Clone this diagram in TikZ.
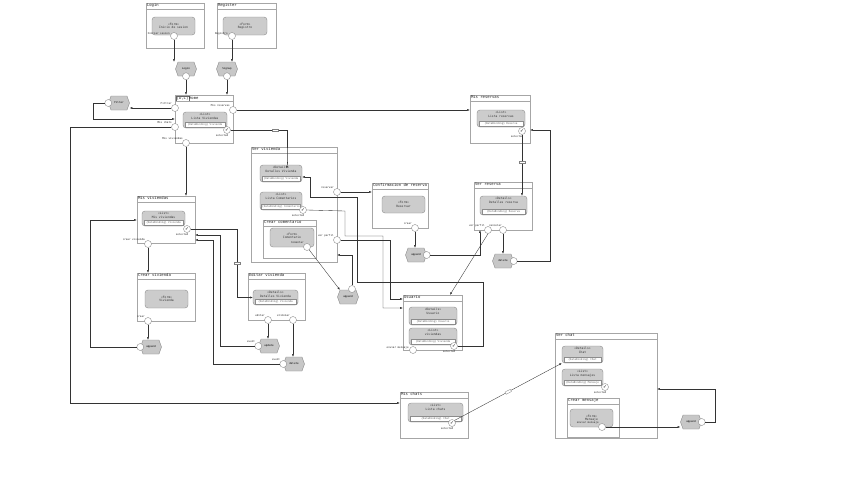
\documentclass[tikz,border=0pt]{standalone}
\usepackage{fontspec}
\setmonofont{DejaVu Sans Mono}
\newfontfamily\chkfont{DejaVu Sans}
\usetikzlibrary{arrows.meta,fit,shapes.symbols,calc}
\tikzset{
 win/.style={draw=black!35, fill=white, line width=0.4pt, inner sep=0pt},
 ttl/.style={font=\ttfamily\fontsize{3.9}{4.3}\selectfont, inner sep=1pt, text=black!85},
 comp/.style={draw=black!45, fill=black!20, rounded corners=3pt, inner sep=0pt, line width=0.4pt},
 txt/.style={font=\ttfamily\fontsize{3.0}{3.4}\selectfont, inner sep=0pt, align=center, text=black!80},
 db/.style={draw=black!45, fill=white, font=\ttfamily\fontsize{2.6}{3}\selectfont, text=black!60, inner xsep=0.6pt, inner ysep=1pt, line width=0.25pt},
 ev/.style={circle, draw=black!45, fill=white, minimum size=7pt, inner sep=0pt, line width=0.4pt},
 sel/.style={ev, font=\chkfont\fontsize{4.5}{5}\selectfont},
 act/.style={signal, signal to=east and west, signal pointer angle=140, draw=black!45, fill=black!22, minimum width=21pt, minimum height=14pt, inner sep=0pt, font=\ttfamily\fontsize{2.6}{3}\selectfont, line width=0.4pt},
 lb/.style={font=\ttfamily\fontsize{2.6}{3}\selectfont, inner sep=0.5pt, text=black!85},
 arr/.style={draw=black!80, line width=0.35pt, -{Latex[length=2.6pt,width=2pt]}},
 ln/.style={draw=black!80, line width=0.35pt},
 mk/.style={draw=black!50, fill=white, minimum width=6pt, minimum height=2.5pt, inner sep=0pt, line width=0.3pt},
}
\newcommand\mkwin[6]{%
 \node[win, fit={(#2,#3) (#4,#5)}] (#1) {};
 \node[ttl, anchor=north west] at (#1.north west) {#6};
 \draw[draw=black!35, line width=0.4pt] ([yshift=-6.5pt]#1.north west) -- ([yshift=-6.5pt]#1.north east);}
\newcommand\mkform[6]{%
 \node[comp, fit={(#2,#3) (#4,#5)}] (#1) {};
 \node[txt] at (#1) {«Form»\\#6};}
\newcommand\mkcomp[8]{%
 \node[comp, fit={(#2,#3) (#4,#5)}] (#1) {};
 \node[txt, anchor=north] at ([yshift=-1.4pt]#1.north) {#6\\#7};
 \node[db, anchor=south, minimum width={#4-#2-4}] at ([yshift=1.4pt]#1.south) {#8};}
\begin{document}
\begin{tikzpicture}[x=1pt,y=-1pt]
\useasboundingbox[fill=white] (0,0) rectangle (848,477);

% ---------------- Login / Register
\mkwin{login}{146}{3}{204}{48}{Login}
\mkform{f_login}{152}{17}{195}{35}{Inicio de sesion}
\node[ev] (e_login) at (174,36) {};
\node[lb, anchor=east] at ([yshift=2pt]e_login.west) {Iniciar sesion};
\mkwin{register}{217}{3}{276}{48}{Register}
\mkform{f_reg}{223}{17}{267}{35}{Registro}
\node[ev] (e_reg) at (232,36) {};
\node[lb, anchor=east] at ([yshift=2pt]e_reg.west) {Registro};

\node[act] (a_login) at (186,69) {Login};
\node[ev] (o_login) at (a_login.south) {};
\node[act] (a_signup) at (227,69) {Signup};
\node[ev] (o_signup) at (a_signup.south) {};
\draw[arr] (e_login.south) -- (e_login.south |- a_login.north);
\draw[arr] (e_reg.south) -- (e_reg.south |- a_signup.north);

% ---------------- Home
\node[win, fit={(175,95) (233,143)}] (home) {};
\node[ttl, anchor=north west] at (home.north west) {{\setlength\fboxsep{0.5pt}\setlength\fboxrule{0.2pt}\color{black!60}\fbox{\color{black!85}[D,L]}}Home};
\draw[draw=black!35, line width=0.4pt] ([yshift=-6.5pt]home.north west) -- ([yshift=-6.5pt]home.north east);
\mkcomp{c_home}{183}{112}{227}{128}{«List»}{Lista Viviendas}{\{DataBinding\} Vivienda}
\node[sel] (s_home) at (227,130) {✓};
\node[lb, anchor=north east] at ([xshift=2pt,yshift=-0.5pt]s_home.south) {selected};
\node[ev] (e_filtrar) at (175,108) {};
\node[lb, anchor=south east] at (e_filtrar.north west) {Filtrar};
\node[ev] (e_mischats) at (175,127) {};
\node[lb, anchor=south east] at (e_mischats.north west) {Mis chats};
\node[ev] (e_misviv) at (186,143) {};
\node[lb, anchor=south east] at (e_misviv.north west) {Mis viviendas};
\node[ev] (e_misres) at (233,110) {};
\node[lb, anchor=south east] at (e_misres.north west) {Mis reservas};
\draw[arr] (o_login.south) -- (o_login.south |- home.north);
\draw[arr] (o_signup.south) -- (o_signup.south |- home.north);

\node[act] (a_filter) at (119,103) {Filter};
\node[ev] (o_filter) at (a_filter.west) {};
\draw[arr] (e_filtrar.west) -- (a_filter.east |- e_filtrar);
\draw[arr] (o_filter.west) -| (93,119) -- (home.west);

% ---------------- Mis reservas / Ver reserva
\mkwin{misres}{470}{95}{530}{143}{Mis reservas}
\mkcomp{c_misres}{477}{110}{525}{127}{«List»}{Lista reservas}{\{DataBinding\} Reserva}
\node[sel] (s_misres) at (522,131) {✓};
\node[lb, anchor=north east] at ([xshift=2pt,yshift=-0.5pt]s_misres.south) {selected};
\draw[arr] (e_misres.east) -- (misres.west |- e_misres);

\mkwin{verres}{474}{182}{532}{230}{Ver reserva}
\mkcomp{c_verres}{480}{196}{527}{215}{«Details»}{Detalles reserva}{\{DataBinding\} Reserva}
\node[ev] (e_vpr) at (488,230) {};
\node[lb, anchor=south east] at (e_vpr.north west) {ver perfil};
\node[ev] (e_canc) at (503,230) {};
\node[lb, anchor=south east] at ([xshift=2pt]e_canc.north west) {cancelar};
\draw[arr] (s_misres.south) -- (s_misres.south |- c_verres.north) node[mk, pos=0.45] (m_res) {};
\node[act] (a_delres) at (503,261) {delete};
\node[ev] (o_delres) at (a_delres.east) {};
\draw[arr] (e_canc.south) -- (e_canc.south |- a_delres.north);
\draw[arr] (o_delres.east) -| (550,130) -- (misres.east |- 550,130);

% ---------------- Confirmacion de reserva
\mkwin{confres}{372}{183}{428}{228}{Confirmacion de reserva}
\mkform{f_res}{382}{196}{425}{213}{Reservar}
\node[ev] (e_crearres) at (415,228) {};
\node[lb, anchor=south east] at (e_crearres.north west) {crear};
\node[act] (a_appres) at (416,255) {append};
\node[ev] (o_appres) at (a_appres.east) {};
\draw[arr] (e_crearres.south) -- (e_crearres.south |- a_appres.north);
\draw[arr] (o_appres.east) -| (verres.south -| 480,0);

% ---------------- Ver vivienda
\mkwin{vv}{251}{147}{337}{262}{Ver vivienda}
\mkcomp{c_vvdet}{260}{165}{302}{182}{«Details»}{Detalles Vivienda}{\{DataBinding\} Vivienda}
\mkcomp{c_vvcom}{260}{192}{302}{210}{«List»}{Lista Comentarios}{\{DataBinding\} Comentario}
\node[sel] (s_vvcom) at (303,210) {✓};
\node[lb, anchor=north east] at ([xshift=2pt,yshift=-0.5pt]s_vvcom.south) {selected};
\mkwin{crcom}{263}{220}{316}{258}{Crear comentario}
\mkform{f_com}{270}{228}{314}{247}{Comentario\\[-0.2pt]\mbox{}}
\node[ev] (e_com) at (307,247) {};
\node[lb, anchor=south east] at (e_com.north west) {Comentar};
\node[ev] (e_reservar) at (337,192) {};
\node[lb, anchor=south east] at (e_reservar.north west) {reservar};
\node[ev] (e_vperf) at (337,240) {};
\node[lb, anchor=south east] at (e_vperf.north west) {ver perfil};
\draw[arr] (s_home.east) -- (287,130) |- node[mk, pos=0.0, xshift=-12pt] (m_home) {} (c_vvdet.north -| 287,0);
\draw[arr] (e_reservar.east) -- (confres.west |- e_reservar);

\node[act] (a_appcom) at (348,297) {append};
\node[ev] (o_appcom) at (352,289) {};
\draw[arr] (e_com) -- (a_appcom.north west);
\draw[arr] (o_appcom.north) |- (vv.east |- 0,255);

% ---------------- Usuario
\mkwin{usr}{403}{295}{462}{350}{Usuario}
\mkcomp{c_udet}{409}{307}{457}{325}{«Details»}{Usuario}{\{DataBinding\} Usuario}
\mkcomp{c_uviv}{409}{328}{457}{345}{«List»}{viviendas}{\{DataBinding\} Vivienda}
\node[sel] (s_uviv) at (454,346) {✓};
\node[lb, anchor=north east] at ([xshift=2pt,yshift=-0.5pt]s_uviv.south) {selected};
\node[ev] (e_envmsg) at (413,350) {};
\node[lb, anchor=east] at ([yshift=2.5pt]e_envmsg.west) {enviar mensaje};
\draw[arr] (s_uviv.east) -- (483,346) -- (483,282) -- (357,282) -- (357,197) -- (310,197) -- (310,177) -- (c_vvdet.east |- 0,177);
\draw[arr] (e_vperf.east) -- (390,240) -- (390,299) -- (usr.west |- 0,299);
\draw[arr] (s_vvcom.east) -- (345,211) -- (345,236) -- (383,236) -- (383,308) -- (usr.west |- 0,308);
\draw[arr] (e_vpr.south) -- (usr.north -| 450,0);

% ---------------- Mis viviendas / Crear / Editar
\mkwin{misviv}{137}{196}{195}{243}{Mis viviendas}
\mkcomp{c_mviv}{142}{211}{185}{226}{«List»}{Mis viviendas}{\{DataBinding\} Vivienda}
\node[sel] (s_mviv) at (187,229) {✓};
\node[lb, anchor=north east] at ([xshift=2pt,yshift=-0.5pt]s_mviv.south) {selected};
\node[ev] (e_crearviv) at (148,244) {};
\node[lb, anchor=south east] at (e_crearviv.north west) {crear vivienda};
\draw[arr] (e_misviv.south) -- (e_misviv.south |- misviv.north);

\mkwin{crviv}{137}{273}{195}{321}{Crear vivienda}
\mkform{f_viv}{145}{290}{188}{308}{Vivienda}
\node[ev] (e_crear) at (148,321) {};
\node[lb, anchor=south east] at (e_crear.north west) {crear};
\draw[arr] (e_crearviv.south) -- (e_crearviv.south |- crviv.north);
\node[act] (a_appviv) at (151,347) {append};
\node[ev] (o_appviv) at (a_appviv.west) {};
\draw[arr] (e_crear.south) -- (e_crear.south |- a_appviv.north);
\draw[arr] (o_appviv.west) -| (90,220) -- (misviv.west |- 0,220);

\mkwin{edviv}{248}{273}{305}{320}{Editar vivienda}
\mkcomp{c_edet}{253}{290}{298}{305}{«Details»}{Detalles Vivienda}{\{DataBinding\} Vivienda}
\node[ev] (e_editar) at (268,320) {};
\node[lb, anchor=south east] at (e_editar.north west) {editar};
\node[ev] (e_elim) at (293,320) {};
\node[lb, anchor=south east] at (e_elim.north west) {eliminar};
\draw[arr] (s_mviv.east) -- (237,229) |- node[mk, pos=0.25] (m_viv) {} (c_edet.west);
\node[act] (a_upd) at (269,346) {update};
\node[ev] (o_upd) at (a_upd.west) {};
\node[lb, anchor=south east] at (o_upd.north west) {event};
\node[act] (a_del) at (294,364) {delete};
\node[ev] (o_del) at (a_del.west) {};
\node[lb, anchor=south east] at (o_del.north west) {event};
\draw[arr] (e_editar.south) -- (e_editar.south |- a_upd.north);
\draw[arr] (e_elim.south) -- (e_elim.south |- a_del.north);
\draw[arr] (o_upd.west) -| (220,235) -- (misviv.east |- 0,235);
\draw[arr] (o_del.west) -| (213,240) -- (misviv.east |- 0,240);

% ---------------- Mis chats / Ver chat
\mkwin{mischats}{400}{392}{468}{438}{Mis chats}
\mkcomp{c_chats}{408}{403}{463}{422}{«List»}{Lista chats}{\{DataBinding\} Chat}
\node[sel] (s_chats) at (452,423) {✓};
\node[lb, anchor=north east] at ([xshift=2pt,yshift=-0.5pt]s_chats.south) {selected};
\draw[arr] (e_mischats.west) -| (70,403) -- (mischats.west |- 0,403);

\mkwin{verchat}{555}{333}{657}{438}{Ver chat}
\mkcomp{c_chat}{562}{346}{603}{363}{«Details»}{Chat}{\{DataBinding\} Chat}
\mkcomp{c_msgs}{562}{369}{603}{386}{«List»}{Lista mensajes}{\{DataBinding\} Mensaje}
\node[sel] (s_msgs) at (605,387) {✓};
\node[lb, anchor=north east] at ([xshift=2pt,yshift=-0.5pt]s_msgs.south) {selected};
\mkwin{crmsg}{567}{398}{619}{437}{Crear mensaje}
\mkform{f_msg}{570}{409}{613}{427}{Mensaje}
\node[ev] (e_env) at (602,427) {};
\node[lb, anchor=south east] at (e_env.north west) {enviar mensaje};
\draw[arr] (s_chats.north east) -- (c_chat.south west) node[mk, pos=0.5, sloped] (m_chat) {};
\node[act] (a_appmsg) at (691,422) {append};
\node[ev] (o_appmsg) at (a_appmsg.east) {};
\draw[arr] (e_env.east) -- (a_appmsg.west |- e_env);
\draw[arr] (o_appmsg.east) -| (715,389) -- (verchat.east |- 0,389);
\end{tikzpicture}
\end{document}
